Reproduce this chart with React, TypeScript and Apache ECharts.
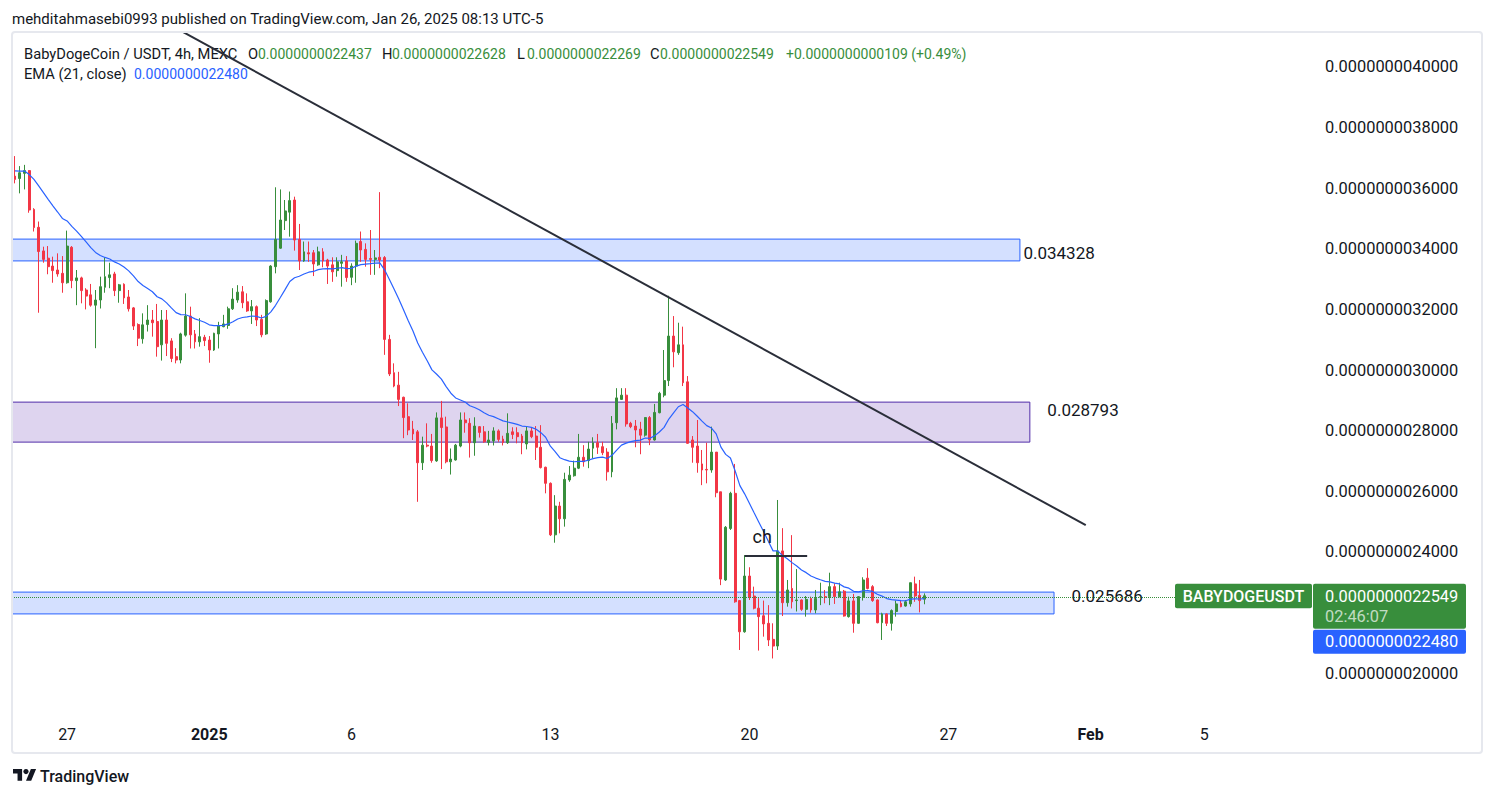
import React, { useEffect, useRef } from "react";
import * as echarts from "echarts";

// ---------- data (prices in units of 1e-9 USDT) ----------
const startDate = "2024-12-25"; // bar 0 is the 2nd 4h bar of this day
const barsPerDay = 6;
const firstBarSlot = 1;

const openP = [
  3.640, 3.632, 3.649, 3.658, 3.530, 3.471, 3.393, 3.369, 3.343, 3.330,
  3.319, 3.288, 3.405, 3.295, 3.304, 3.264, 3.248, 3.214, 3.231, 3.273,
  3.305, 3.317, 3.262, 3.283, 3.241, 3.205, 3.150, 3.103, 3.150, 3.165,
  3.160, 3.083, 3.165, 3.096, 3.044, 3.033, 3.115, 3.178, 3.119, 3.093,
  3.108, 3.099, 3.066, 3.119, 3.143, 3.147, 3.202, 3.231, 3.258, 3.225,
  3.195, 3.209, 3.167, 3.119, 3.225, 3.341, 3.402, 3.493, 3.521, 3.561,
  3.431, 3.360, 3.387, 3.387, 3.347, 3.390, 3.363, 3.347, 3.328, 3.352,
  3.360, 3.306, 3.343, 3.424, 3.398, 3.368, 3.365, 3.372, 3.371, 3.101,
  2.991, 2.950, 2.910, 2.846, 2.805, 2.796, 2.694, 2.752, 2.749, 2.700,
  2.842, 2.812, 2.697, 2.703, 2.749, 2.835, 2.824, 2.760, 2.813, 2.796,
  2.761, 2.766, 2.799, 2.772, 2.760, 2.796, 2.793, 2.782, 2.756, 2.799,
  2.782, 2.745, 2.679, 2.626, 2.456, 2.551, 2.509, 2.637, 2.651, 2.676,
  2.712, 2.701, 2.742, 2.760, 2.747, 2.729, 2.664, 2.826, 2.903, 2.917,
  2.824, 2.815, 2.805, 2.785, 2.843, 2.769, 2.859, 2.917, 2.965, 3.112,
  3.057, 3.083, 2.961, 2.769, 2.749, 2.690, 2.672, 2.670, 2.729, 2.598,
  2.307, 2.477, 2.593, 2.239, 2.136, 2.320, 2.254, 2.214, 2.189, 2.164,
  2.111, 2.089, 2.403, 2.232, 2.279, 2.239, 2.241, 2.210, 2.246, 2.208,
  2.250, 2.252, 2.252, 2.285, 2.252, 2.270, 2.186, 2.238, 2.164, 2.250,
  2.313, 2.285, 2.241, 2.166, 2.195, 2.164, 2.203, 2.230, 2.221, 2.228,
  2.294, 2.256, 2.2437,
];
const highP = [
  3.706, 3.673, 3.677, 3.660, 3.534, 3.490, 3.407, 3.409, 3.374, 3.385,
  3.376, 3.460, 3.409, 3.330, 3.308, 3.270, 3.284, 3.264, 3.308, 3.372,
  3.354, 3.324, 3.284, 3.286, 3.264, 3.208, 3.154, 3.187, 3.214, 3.198,
  3.218, 3.198, 3.198, 3.105, 3.072, 3.123, 3.253, 3.209, 3.132, 3.171,
  3.116, 3.112, 3.123, 3.159, 3.182, 3.209, 3.270, 3.280, 3.277, 3.253,
  3.231, 3.213, 3.182, 3.233, 3.346, 3.603, 3.596, 3.561, 3.589, 3.572,
  3.482, 3.424, 3.424, 3.396, 3.407, 3.402, 3.367, 3.372, 3.372, 3.380,
  3.376, 3.352, 3.427, 3.457, 3.418, 3.462, 3.396, 3.587, 3.376, 3.116,
  3.022, 2.994, 2.912, 2.890, 2.832, 2.802, 2.780, 2.824, 2.789, 2.860,
  2.898, 2.846, 2.741, 2.756, 2.860, 2.860, 2.841, 2.844, 2.815, 2.815,
  2.799, 2.811, 2.804, 2.783, 2.857, 2.811, 2.811, 2.789, 2.813, 2.810,
  2.815, 2.818, 2.681, 2.629, 2.587, 2.565, 2.661, 2.683, 2.701, 2.789,
  2.752, 2.763, 2.778, 2.789, 2.763, 2.742, 2.848, 2.940, 2.940, 2.940,
  2.829, 2.835, 2.829, 2.844, 2.848, 2.888, 2.928, 3.066, 3.245, 3.178,
  3.156, 3.143, 2.980, 2.782, 2.835, 2.736, 2.760, 2.813, 2.729, 2.598,
  2.485, 2.598, 2.690, 2.241, 2.389, 2.349, 2.285, 2.247, 2.239, 2.224,
  2.164, 2.571, 2.478, 2.307, 2.455, 2.343, 2.243, 2.254, 2.252, 2.274,
  2.298, 2.274, 2.331, 2.296, 2.298, 2.274, 2.252, 2.261, 2.254, 2.316,
  2.346, 2.290, 2.243, 2.199, 2.197, 2.210, 2.239, 2.241, 2.241, 2.298,
  2.318, 2.307, 2.2628,
];
const lowP = [
  3.616, 3.583, 3.596, 3.519, 3.457, 3.189, 3.354, 3.316, 3.288, 3.308,
  3.255, 3.285, 3.270, 3.214, 3.220, 3.200, 3.209, 3.072, 3.203, 3.255,
  3.270, 3.244, 3.222, 3.218, 3.193, 3.132, 3.079, 3.087, 3.127, 3.110,
  3.044, 3.031, 3.046, 3.026, 3.022, 3.022, 3.110, 3.071, 3.071, 3.077,
  3.079, 3.024, 3.063, 3.071, 3.141, 3.136, 3.198, 3.222, 3.204, 3.192,
  3.152, 3.145, 3.108, 3.116, 3.222, 3.319, 3.400, 3.462, 3.440, 3.394,
  3.330, 3.357, 3.357, 3.310, 3.344, 3.339, 3.284, 3.291, 3.308, 3.275,
  3.291, 3.280, 3.288, 3.357, 3.341, 3.314, 3.314, 3.336, 3.050, 2.980,
  2.943, 2.881, 2.775, 2.785, 2.769, 2.565, 2.670, 2.745, 2.694, 2.697,
  2.673, 2.692, 2.655, 2.701, 2.745, 2.793, 2.711, 2.717, 2.777, 2.760,
  2.751, 2.751, 2.763, 2.751, 2.756, 2.772, 2.758, 2.722, 2.738, 2.775,
  2.703, 2.675, 2.593, 2.452, 2.430, 2.461, 2.483, 2.631, 2.648, 2.673,
  2.681, 2.676, 2.709, 2.723, 2.719, 2.635, 2.646, 2.804, 2.901, 2.813,
  2.808, 2.745, 2.722, 2.780, 2.752, 2.767, 2.857, 2.910, 2.947, 3.009,
  3.050, 2.947, 2.756, 2.694, 2.661, 2.620, 2.626, 2.661, 2.580, 2.290,
  2.304, 2.472, 2.232, 2.076, 2.133, 2.241, 2.210, 2.074, 2.120, 2.089,
  2.048, 2.076, 2.188, 2.219, 2.213, 2.203, 2.205, 2.186, 2.199, 2.197,
  2.224, 2.230, 2.224, 2.228, 2.250, 2.186, 2.183, 2.133, 2.162, 2.239,
  2.276, 2.235, 2.164, 2.109, 2.155, 2.140, 2.186, 2.217, 2.219, 2.219,
  2.235, 2.200, 2.2269,
];
const closeP = [
  3.629, 3.651, 3.658, 3.528, 3.470, 3.391, 3.365, 3.341, 3.328, 3.317,
  3.288, 3.409, 3.295, 3.304, 3.262, 3.244, 3.214, 3.231, 3.275, 3.308,
  3.314, 3.262, 3.281, 3.238, 3.202, 3.145, 3.105, 3.149, 3.165, 3.156,
  3.077, 3.165, 3.088, 3.038, 3.033, 3.119, 3.178, 3.116, 3.093, 3.110,
  3.097, 3.066, 3.121, 3.147, 3.152, 3.202, 3.234, 3.257, 3.222, 3.195,
  3.209, 3.165, 3.116, 3.229, 3.343, 3.431, 3.495, 3.525, 3.559, 3.429,
  3.360, 3.390, 3.383, 3.350, 3.390, 3.360, 3.343, 3.324, 3.357, 3.357,
  3.305, 3.343, 3.418, 3.396, 3.365, 3.365, 3.370, 3.363, 3.101, 2.987,
  2.947, 2.903, 2.843, 2.802, 2.789, 2.694, 2.752, 2.749, 2.701, 2.842,
  2.810, 2.697, 2.706, 2.752, 2.835, 2.826, 2.760, 2.815, 2.794, 2.763,
  2.769, 2.799, 2.771, 2.761, 2.791, 2.787, 2.780, 2.760, 2.799, 2.780,
  2.745, 2.678, 2.626, 2.456, 2.551, 2.509, 2.639, 2.653, 2.676, 2.712,
  2.697, 2.739, 2.760, 2.745, 2.727, 2.664, 2.824, 2.908, 2.917, 2.822,
  2.813, 2.802, 2.785, 2.843, 2.769, 2.860, 2.923, 2.965, 3.112, 3.060,
  3.083, 2.958, 2.758, 2.745, 2.694, 2.670, 2.670, 2.729, 2.595, 2.310,
  2.481, 2.593, 2.235, 2.136, 2.320, 2.249, 2.214, 2.186, 2.162, 2.109,
  2.089, 2.403, 2.232, 2.274, 2.235, 2.241, 2.210, 2.243, 2.208, 2.246,
  2.252, 2.250, 2.285, 2.252, 2.268, 2.188, 2.238, 2.164, 2.252, 2.307,
  2.279, 2.239, 2.166, 2.195, 2.164, 2.206, 2.228, 2.219, 2.235, 2.298,
  2.254, 2.239, 2.2549,
];

const emaPeriod = 21;
const emaSeed = 3.66; // EMA level entering the first visible bar

// 2.2 is hidden behind the last-price badges in the reference
const priceTicks = [2.0, 2.4, 2.6, 2.8, 3.0, 3.2, 3.4, 3.6, 3.8, 4.0];
const timeTickDates = ["2024-12-27", "2025-01-01", "2025-01-06", "2025-01-13", "2025-01-20", "2025-01-27", "2025-02-01", "2025-02-05"];
const timeTickLabels = ["27", "2025", "6", "13", "20", "27", "Feb", "5"];
const boldTickLabels = ["2025", "Feb"];

const zoneTop = [3.432, 2.894, 2.267];
const zoneBottom = [3.360, 2.762, 2.195];
const zoneEnd = [212.1, 214.2, 219.3];
const zoneLabels = ["0.034328", "0.028793", "0.025686"];

const trendX = [34, 226];
const trendY = [4.128, 2.488];
const chX = [154, 167.2];
const chY = 2.386;
const chLabelPos = [157.7, 2.452];

const lastPrice = 2.2549;
const emaLast = 2.248;

// ---------- constants for look ----------
const GREEN = "#388e3c";
const RED = "#f23645";
const BLUE = "#2962ff";
const TXT = "#131722";
const FONT = "Roboto, 'Noto Sans', sans-serif";
const X_MIN = -0.633;
const X_MAX = 273.75;
const Y_MIN = 1.8515;
const Y_MAX = 4.1155;

const fmtPrice = (v: number) => (v * 1e-9).toFixed(13);

function barIndexOf(dateStr: string) {
  const days = Math.round((Date.parse(dateStr) - Date.parse(startDate)) / 86400000);
  return days * barsPerDay - firstBarSlot;
}

export default function App() {
  const ref = useRef<HTMLDivElement>(null);

  useEffect(() => {
    if (!ref.current) return;
    const chart = echarts.init(ref.current, undefined, { renderer: "svg" });

    const candleData = openP.map((o, i) => [i, o, closeP[i], lowP[i], highP[i]]);
    const alpha = 2 / (emaPeriod + 1);
    let prev = emaSeed;
    const emaData = closeP.map((c, i) => {
      prev = alpha * c + (1 - alpha) * prev;
      return [i, prev];
    });
    const tickIdx = timeTickDates.map(barIndexOf);

    const zoneStyles = [
      { fill: "rgba(41,98,255,0.2)", stroke: BLUE, dist: 3, dy: 3 },
      { fill: "rgba(103,58,183,0.22)", stroke: "#512da8", dist: 17, dy: -12 },
      { fill: "rgba(41,98,255,0.2)", stroke: BLUE, dist: 17, dy: -7 },
    ];

    const option: any = {
      animation: false,
      backgroundColor: "#ffffff",
      grid: { left: 12, top: 32, width: 1300, height: 686, containLabel: false },
      xAxis: {
        type: "value",
        min: X_MIN,
        max: X_MAX,
        axisLine: { show: false },
        axisTick: { show: false },
        splitLine: { show: false },
        axisLabel: {
          customValues: tickIdx,
          margin: 8,
          color: TXT,
          fontSize: 16,
          fontFamily: FONT,
          formatter: (v: number) => {
            const k = tickIdx.indexOf(Math.round(v));
            if (k < 0) return "";
            const lab = timeTickLabels[k];
            return boldTickLabels.includes(lab) ? `{b|${lab}}` : lab;
          },
          rich: { b: { fontWeight: "bold", fontSize: 16, color: TXT, fontFamily: FONT } },
        },
      },
      yAxis: {
        type: "value",
        position: "right",
        min: Y_MIN,
        max: Y_MAX,
        axisLine: { show: false },
        axisTick: { show: false },
        splitLine: { show: false },
        axisLabel: {
          customValues: priceTicks,
          margin: 13,
          color: TXT,
          fontSize: 16.4,
          fontFamily: FONT,
          formatter: (v: number) => fmtPrice(v),
        },
      },
      series: [
        {
          type: "candlestick",
          data: candleData,
          encode: { x: 0, y: [1, 2, 3, 4] },
          barWidth: 2.4,
          itemStyle: {
            color: GREEN,
            color0: RED,
            borderColor: GREEN,
            borderColor0: RED,
            borderWidth: 1,
          },
          markArea: {
            silent: true,
            data: zoneTop.map((t, k) => [
              {
                coord: [X_MIN, t],
                itemStyle: { color: zoneStyles[k].fill, borderColor: zoneStyles[k].stroke, borderWidth: 1 },
                label: {
                  show: true,
                  position: "right",
                  distance: zoneStyles[k].dist,
                  offset: [0, zoneStyles[k].dy],
                  formatter: zoneLabels[k],
                  color: TXT,
                  fontSize: 17,
                  fontFamily: FONT,
                },
              },
              { coord: [zoneEnd[k], zoneBottom[k]] },
            ]),
          },
          markLine: {
            silent: true,
            symbol: ["none", "none"],
            label: { show: false },
            data: [
              { yAxis: lastPrice, lineStyle: { color: GREEN, type: "dotted", width: 1 } },
              [
                { coord: [chX[0], chY], lineStyle: { color: "#2a2e39", type: "solid", width: 2 } },
                { coord: [chX[1], chY] },
              ],
            ],
          },
        },
        {
          type: "line",
          data: emaData,
          symbol: "none",
          lineStyle: { color: BLUE, width: 1.2 },
          z: 3,
        },
        {
          type: "line",
          data: trendX.map((x, k) => [x, trendY[k]]),
          symbol: "none",
          clip: true,
          lineStyle: { color: "#2a2e39", width: 2 },
          z: 4,
        },
      ],
    };
    chart.setOption(option);

    const yLast = chart.convertToPixel({ yAxisIndex: 0 }, lastPrice) as number;
    const chPix = chart.convertToPixel({ xAxisIndex: 0, yAxisIndex: 0 }, chLabelPos) as number[];

    const logoD = "M14 22H7V11H0V4h14v18zM28 22h-8l7.5-18h8L28 22z";
    try {
      echarts.graphic.registerShape("tvlogo", (echarts.graphic as any).extendPath(logoD, {}));
    } catch (e) {}

    const legendRow = [
      { x: 24, t: "BabyDogeCoin / USDT, 4h, MEXC", c: TXT, s: 14.7 },
      { x: 248, t: "O", c: TXT, s: 14.7 },
      { x: 258, t: "0.0000000022437", c: GREEN, s: 14 },
      { x: 382, t: "H", c: TXT, s: 14.7 },
      { x: 392, t: "0.0000000022628", c: GREEN, s: 14 },
      { x: 517, t: "L", c: TXT, s: 14.7 },
      { x: 527, t: "0.0000000022269", c: GREEN, s: 14 },
      { x: 650, t: "C", c: TXT, s: 14.7 },
      { x: 660, t: "0.0000000022549", c: GREEN, s: 14 },
      { x: 786, t: "+0.0000000000109 (+0.49%)", c: GREEN, s: 14 },
    ];

    const badgeText = (x: number, y: number, text: string, fill: string, font: string, align = "left") => ({
      type: "text",
      x,
      y,
      z: 61,
      style: { text, fill, font, align, verticalAlign: "middle", lineHeight: 16 },
    });

    const graphics: any[] = [
      {
        type: "rect",
        shape: { x: 12, y: 32, width: 1470, height: 721, r: 3 },
        style: { fill: "none", stroke: "#e6e8ee", lineWidth: 2 },
        silent: true,
        z: 100,
      },
      {
        type: "text",
        x: 12,
        y: 19,
        style: { text: "mehditahmasebi0993 published on TradingView.com, Jan 26, 2025 08:13 UTC-5", fill: TXT, font: `15px ${FONT}`, verticalAlign: "middle" },
      },
      ...legendRow.map((r) => ({
        type: "text",
        x: r.x,
        y: 54,
        style: { text: r.t, fill: r.c, font: `${r.s}px ${FONT}`, verticalAlign: "middle" },
      })),
      {
        type: "text",
        x: 24,
        y: 74,
        style: { text: "EMA (21, close)", fill: TXT, font: `14.7px ${FONT}`, verticalAlign: "middle" },
      },
      {
        type: "text",
        x: 134,
        y: 74,
        style: { text: fmtPrice(emaLast), fill: BLUE, font: `14px ${FONT}`, verticalAlign: "middle" },
      },
      {
        type: "text",
        x: chPix[0],
        y: chPix[1],
        style: { text: "ch", fill: TXT, font: `18px ${FONT}`, align: "center", verticalAlign: "middle" },
        z: 50,
      },
      // symbol badge
      {
        type: "rect",
        shape: { x: 1175, y: yLast - 12, width: 137, height: 24.5, r: 2 },
        style: { fill: GREEN },
        z: 60,
      },
      badgeText(1243.5, yLast + 0.5, "BABYDOGEUSDT", "#ffffff", `500 16px ${FONT}`, "center"),
      // last price badge
      {
        type: "rect",
        shape: { x: 1313, y: yLast - 12, width: 153, height: 45, r: 2 },
        style: { fill: GREEN },
        z: 60,
      },
      badgeText(1325, yLast + 0.7, fmtPrice(lastPrice), "#ffffff", `16.4px ${FONT}`),
      badgeText(1325, yLast + 20.7, "02:46:07", "rgba(255,255,255,0.7)", `16.4px ${FONT}`),
      // EMA badge
      {
        type: "rect",
        shape: { x: 1313, y: yLast + 34, width: 153, height: 24, r: 2 },
        style: { fill: BLUE },
        z: 60,
      },
      badgeText(1325, yLast + 46, fmtPrice(emaLast), "#ffffff", `16.4px ${FONT}`),
      // TradingView logo
      {
        type: "tvlogo",
        x: 13,
        y: 766.4,
        scaleX: 0.65,
        scaleY: 0.65,
        style: { fill: TXT },
      },
      {
        type: "circle",
        shape: { cx: 13 + 20 * 0.65, cy: 766.4 + 8 * 0.65, r: 4 * 0.65 },
        style: { fill: TXT },
      },
      {
        type: "text",
        x: 40,
        y: 776,
        style: { text: "TradingView", fill: TXT, font: `500 16px ${FONT}`, verticalAlign: "middle" },
      },
    ];
    chart.setOption({ graphic: graphics });

    return () => chart.dispose();
  }, []);

  return (
    <div
      ref={ref}
      style={{ position: "absolute", left: 0, top: 0, width: 1495, height: 798, background: "#ffffff" }}
    />
  );
}
